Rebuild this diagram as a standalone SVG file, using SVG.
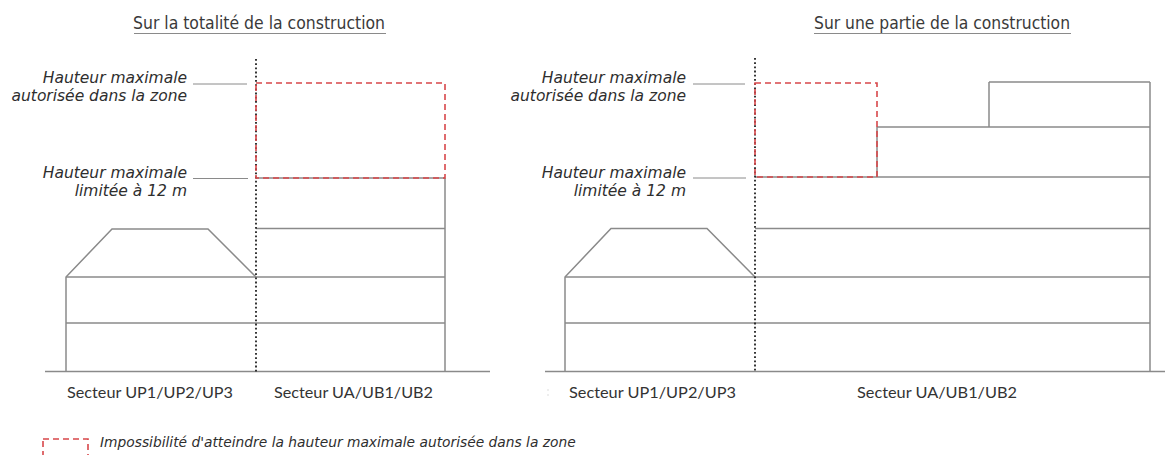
<svg xmlns="http://www.w3.org/2000/svg" width="1165" height="455" viewBox="0 0 1165 455">
<style>
.bg{fill:#ffffff}
.ln{stroke:#8a8a8a;stroke-width:1.5;fill:none}
.thin{stroke:#8a8a8a;stroke-width:1;fill:none}
.dot{stroke:#222222;stroke-width:1.8;stroke-dasharray:1.8 2.4;fill:none}
.red{stroke:#d8474a;stroke-width:1.6;stroke-dasharray:6 4;fill:none}
.title{font-family:"DejaVu Sans Condensed","DejaVu Sans",sans-serif;font-stretch:condensed;font-size:17px;fill:#3a3a3a}
.lbl{font-family:"DejaVu Sans","Verdana",sans-serif;font-style:italic;font-size:15.5px;fill:#2e2e2e}
.sec{font-family:"Lato","Open Sans",sans-serif;font-size:15px;fill:#333333}
.leg{font-family:"DejaVu Sans","Verdana",sans-serif;font-style:italic;font-size:13.8px;fill:#2e2e2e}
</style>
<rect class="bg" x="0" y="0" width="1165" height="455"/>

<g id="panel-left">
  <g id="title-left">
    <text class="title" x="133" y="29" textLength="252" lengthAdjust="spacingAndGlyphs">Sur la totalité de la construction</text>
    <line class="thin" x1="134" y1="33.5" x2="386" y2="33.5"/>
  </g>
  <g id="labels-left">
    <text class="lbl" x="187" y="83" text-anchor="end">Hauteur maximale</text>
    <text class="lbl" x="187" y="101" text-anchor="end">autorisée dans la zone</text>
    <line class="thin" x1="193" y1="84" x2="247" y2="84"/>
    <text class="lbl" x="187" y="178" text-anchor="end">Hauteur maximale</text>
    <text class="lbl" x="187" y="196" text-anchor="end">limitée à 12 m</text>
    <line class="thin" x1="193" y1="178.5" x2="248" y2="178.5"/>
  </g>
  <g id="ground-left">
    <line class="ln" x1="45" y1="371.5" x2="490" y2="371.5"/>
  </g>
  <g id="building-up-left">
    <polyline class="ln" points="66,371.5 66,277 112,229 208,229 256,277"/>
    <line class="ln" x1="66" y1="277" x2="445" y2="277"/>
    <line class="ln" x1="66" y1="323" x2="445" y2="323"/>
  </g>
  <g id="building-ua-left">
    <line class="ln" x1="445" y1="178" x2="445" y2="371.5"/>
    <line class="ln" x1="256" y1="178" x2="445" y2="178"/>
    <line class="ln" x1="256" y1="228.5" x2="445" y2="228.5"/>
  </g>
  <g id="limit-left">
    <line class="dot" x1="256" y1="59" x2="256" y2="371.5"/>
  </g>
  <g id="impossible-left">
    <rect class="red" x="256" y="83" width="189" height="95"/>
  </g>
  <g id="sectors-left">
    <text class="sec" x="67" y="398" textLength="166" lengthAdjust="spacingAndGlyphs">Secteur UP1/UP2/UP3</text>
    <text class="sec" x="274" y="398" textLength="159" lengthAdjust="spacingAndGlyphs">Secteur UA/UB1/UB2</text>
  </g>
</g>

<g id="panel-right">
  <g id="title-right">
    <text class="title" x="814" y="29" textLength="256" lengthAdjust="spacingAndGlyphs">Sur une partie de la construction</text>
    <line class="thin" x1="814" y1="33.5" x2="1071" y2="33.5"/>
  </g>
  <g id="labels-right">
    <text class="lbl" x="686" y="83" text-anchor="end">Hauteur maximale</text>
    <text class="lbl" x="686" y="101" text-anchor="end">autorisée dans la zone</text>
    <line class="thin" x1="693" y1="84" x2="745" y2="84"/>
    <text class="lbl" x="686" y="178" text-anchor="end">Hauteur maximale</text>
    <text class="lbl" x="686" y="196" text-anchor="end">limitée à 12 m</text>
    <line class="thin" x1="693" y1="178" x2="746" y2="178"/>
  </g>
  <g id="ground-right">
    <line class="ln" x1="545" y1="371.5" x2="1165" y2="371.5"/>
  </g>
  <g id="building-up-right">
    <polyline class="ln" points="565,371.5 565,277 611,228.5 707,228.5 755,277"/>
    <line class="ln" x1="565" y1="277" x2="1150" y2="277"/>
    <line class="ln" x1="565" y1="323" x2="1150" y2="323"/>
  </g>
  <g id="building-ua-right">
    <line class="ln" x1="1150" y1="82" x2="1150" y2="371.5"/>
    <line class="ln" x1="989" y1="82" x2="1150" y2="82"/>
    <line class="ln" x1="989" y1="82" x2="989" y2="127"/>
    <line class="ln" x1="877" y1="127" x2="1150" y2="127"/>
    <line class="ln" x1="877" y1="127" x2="877" y2="177"/>
    <line class="ln" x1="755" y1="177" x2="1150" y2="177"/>
    <line class="ln" x1="755" y1="228.5" x2="1150" y2="228.5"/>
  </g>
  <g id="limit-right">
    <line class="dot" x1="755" y1="58" x2="755" y2="371.5"/>
  </g>
  <g id="impossible-right">
    <rect class="red" x="755" y="83" width="122" height="94"/>
  </g>
  <g id="sectors-right">
    <line x1="548" y1="389" x2="548" y2="398" stroke="#dddddd" stroke-width="1" stroke-dasharray="2 3"/>
    <text class="sec" x="569" y="398" textLength="167" lengthAdjust="spacingAndGlyphs">Secteur UP1/UP2/UP3</text>
    <text class="sec" x="857" y="398" textLength="160" lengthAdjust="spacingAndGlyphs">Secteur UA/UB1/UB2</text>
  </g>
</g>

<g id="legend">
  <rect class="red" x="43" y="439" width="45" height="24"/>
  <text class="leg" x="100" y="447">Impossibilité d'atteindre la hauteur maximale autorisée dans la zone</text>
</g>
</svg>
